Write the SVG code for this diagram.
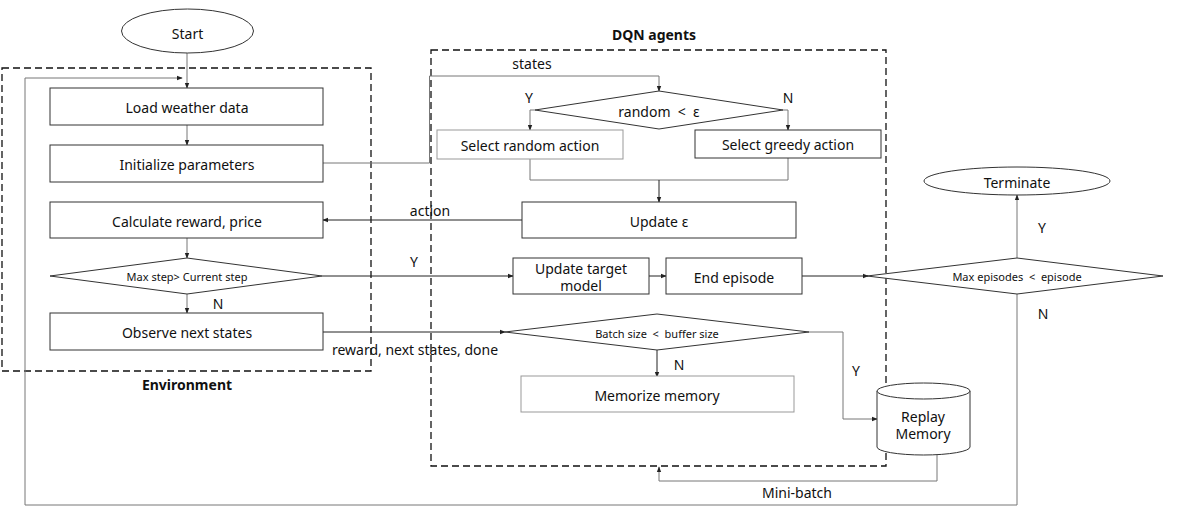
<svg xmlns="http://www.w3.org/2000/svg" width="1183" height="508" viewBox="0 0 1183 508">
<defs>
<marker id="ah" viewBox="0 0 8 8" refX="7" refY="4" markerWidth="6" markerHeight="6" orient="auto" markerUnits="userSpaceOnUse">
<path d="M0,1 L8,4 L0,7 z" fill="#222"/>
</marker>
<style>
.t{font-family:"Noto Sans","Liberation Sans",sans-serif;font-size:14px;fill:#111;text-anchor:middle;dominant-baseline:central}
.s{font-size:11px}
.b{font-weight:bold;font-size:14px}
.box{fill:#fff;stroke:#333;stroke-width:1}
.lbox{fill:#fff;stroke:#999;stroke-width:1}
.dash{fill:none;stroke:#111;stroke-width:1.3;stroke-dasharray:7,4}
.c{fill:none;stroke:#777;stroke-width:1}
.ck{fill:none;stroke:#222;stroke-width:1}
</style>
</defs>
<rect width="1183" height="508" fill="#fff"/>

<g id="groups">
<rect class="dash" x="2" y="68" width="369" height="303"/>
<text class="t b" x="187" y="384">Environment</text>
<rect class="dash" x="431" y="50" width="455" height="416"/>
<text class="t b" x="654" y="34">DQN agents</text>
</g>

<g id="connectors">
<line class="c" x1="187" y1="53" x2="187" y2="88" marker-end="url(#ah)"/>
<line class="c" x1="187" y1="125" x2="187" y2="145" marker-end="url(#ah)"/>
<line class="c" x1="187" y1="238" x2="187" y2="258" marker-end="url(#ah)"/>
<line class="c" x1="187" y1="294" x2="187" y2="313" marker-end="url(#ah)"/>
<polyline class="c" points="323,163 429.5,163 429.5,76 659,76 659,91" marker-end="url(#ah)"/>
<text class="t" x="532" y="63">states</text>
<polyline class="c" points="535,110 530,110 530,130" marker-end="url(#ah)"/>
<polyline class="c" points="783,110 788,110 788,130" marker-end="url(#ah)"/>
<polyline class="c" points="530,159 530,180 788,180 788,158"/>
<line class="ck" x1="659" y1="180" x2="659" y2="202" marker-end="url(#ah)"/>
<line class="ck" x1="522" y1="220" x2="323" y2="220" marker-end="url(#ah)"/>
<text class="t" x="430" y="210">action</text>
<line class="ck" x1="322" y1="276" x2="513" y2="276" marker-end="url(#ah)"/>
<text class="t" x="414" y="261">Y</text>
<line class="ck" x1="649" y1="276" x2="666" y2="276" marker-end="url(#ah)"/>
<line class="ck" x1="802" y1="276" x2="868" y2="276" marker-end="url(#ah)"/>
<line class="c" x1="1017" y1="258" x2="1017" y2="195" marker-end="url(#ah)"/>
<text class="t" x="1042" y="227">Y</text>
<polyline class="c" points="1017,294 1017,505 25,505 25,78 182,78" marker-end="url(#ah)"/>
<text class="t" x="1043" y="313">N</text>
<line class="ck" x1="323" y1="332" x2="505" y2="332" marker-end="url(#ah)"/>
<text class="t" x="415" y="349">reward, next states, done</text>
<line class="ck" x1="657" y1="350" x2="657" y2="377" marker-end="url(#ah)"/>
<text class="t" x="679" y="364">N</text>
<polyline class="c" points="809,332 843,332 843,419 877,419" marker-end="url(#ah)"/>
<text class="t" x="856" y="370">Y</text>
<polyline class="c" points="937,455 937,481 659,481 659,467" marker-end="url(#ah)"/>
<text class="t" x="797" y="492">Mini-batch</text>
<text class="t" x="218" y="303">N</text>
<text class="t" x="529" y="97">Y</text>
<text class="t" x="788" y="97">N</text>
</g>

<g id="start">
<ellipse class="box" cx="187.5" cy="31" rx="66" ry="22"/>
<text class="t" x="187.5" y="33">Start</text>
</g>
<g id="load">
<rect class="box" x="50" y="88" width="273" height="37"/>
<text class="t" x="187" y="107">Load weather data</text>
</g>
<g id="init">
<rect class="box" x="50" y="145" width="273" height="37"/>
<text class="t" x="187" y="164">Initialize parameters</text>
</g>
<g id="calc">
<rect class="box" x="50" y="202" width="273" height="36"/>
<text class="t" x="187" y="221">Calculate reward, price</text>
</g>
<g id="maxstep">
<polygon class="box" points="50,276 187,258 322,276 187,294"/>
<text class="t s" x="187" y="276">Max step&gt; Current step</text>
</g>
<g id="observe">
<rect class="box" x="50" y="313" width="273" height="37"/>
<text class="t" x="187" y="332">Observe next states</text>
</g>
<g id="random">
<polygon class="box" points="535,110 659,91 783,110 659,129"/>
<text class="t" x="659" y="111" xml:space="preserve">random  &lt;  ε</text>
</g>
<g id="selrandom">
<rect class="lbox" x="437" y="130" width="186" height="29"/>
<text class="t" x="530" y="145">Select random action</text>
</g>
<g id="selgreedy">
<rect class="box" x="695" y="130" width="186" height="28"/>
<text class="t" x="788" y="144">Select greedy action</text>
</g>
<g id="update-eps">
<rect class="box" x="522" y="202" width="274" height="36"/>
<text class="t" x="659" y="221">Update ε</text>
</g>
<g id="update-target">
<rect class="box" x="513" y="258" width="136" height="36"/>
<text class="t" x="581" y="268">Update target</text>
<text class="t" x="581" y="285">model</text>
</g>
<g id="end-episode">
<rect class="box" x="666" y="258" width="136" height="36"/>
<text class="t" x="734" y="277">End episode</text>
</g>
<g id="maxep">
<polygon class="box" points="867,276 1017,258 1163,276 1017,294"/>
<text class="t s" x="1017" y="276" xml:space="preserve">Max episodes  &lt;  episode</text>
</g>
<g id="terminate">
<ellipse class="box" cx="1017" cy="181" rx="93" ry="14"/>
<text class="t" x="1017" y="182">Terminate</text>
</g>
<g id="batch">
<polygon class="box" points="505,332 657,314 809,332 657,350"/>
<text class="t s" x="657" y="333" xml:space="preserve">Batch size  &lt;  buffer size</text>
</g>
<g id="memorize">
<rect class="lbox" x="521" y="376" width="273" height="36"/>
<text class="t" x="657" y="395">Memorize memory</text>
</g>
<g id="replay">
<path class="box" d="M877,391 L877,447 A46.5,8 0 0 0 970,447 L970,391 A46.5,8 0 0 0 877,391 Z"/>
<path class="box" d="M877,391 A46.5,8 0 0 0 970,391" fill="none"/>
<text class="t" x="923" y="416">Replay</text>
<text class="t" x="923" y="433">Memory</text>
</g>
</svg>
